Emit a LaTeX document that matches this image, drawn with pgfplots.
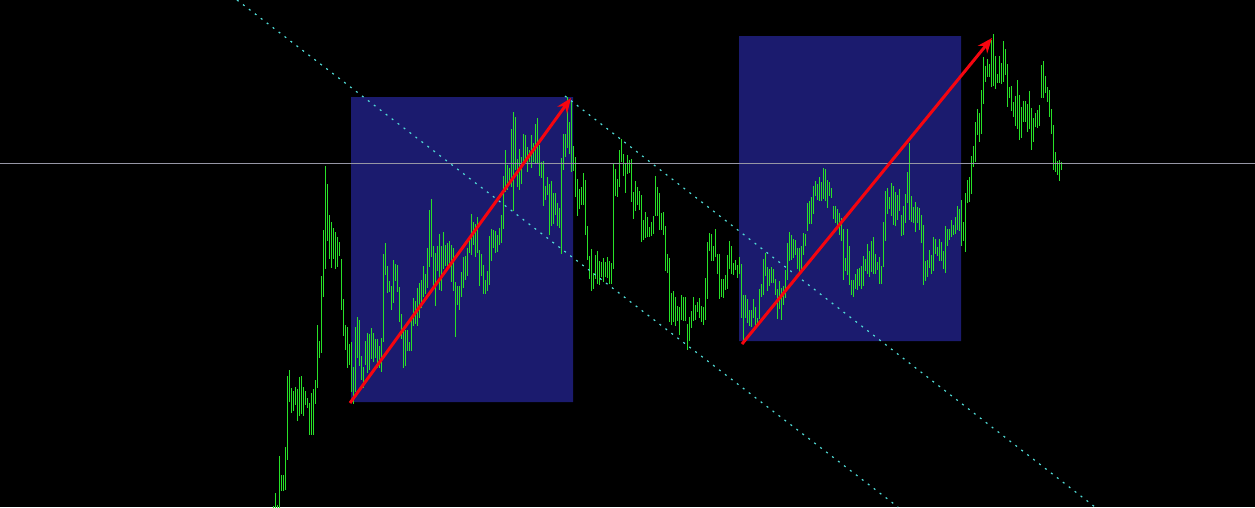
\documentclass[border=0pt]{standalone}
\usepackage{pgfplots}
\usepackage{pgfplotstable}
\pgfplotsset{compat=1.18}
\usetikzlibrary{arrows.meta}
\definecolor{barc}{RGB}{40,225,40}
\definecolor{boxc}{RGB}{27,27,110}
\definecolor{dotc}{RGB}{80,220,215}
\definecolor{hlc}{RGB}{150,150,165}
\definecolor{arrc}{RGB}{245,5,15}
\pgfplotstableread{
top bot
506 507
493 507
505 507
456 507
475 490
475 490
447 489
376 459
370 401
388 412
391 410
387 404
389 420
377 415
376 413
387 415
391 404
398 407
403 434
393 434
389 434
380 403
325 387
341 357
276 352
230 296
166 268
184 240
215 258
222 267
228 258
232 268
237 266
242 255
259 309
299 335
325 349
327 367
344 364
342 391
367 403
327 391
317 357
320 365
356 379
367 387
341 364
333 372
334 369
328 358
333 361
339 357
339 367
346 367
338 371
254 341
243 274
266 292
281 291
286 309
260 302
264 280
265 291
287 321
314 338
330 367
330 365
330 350
342 350
316 350
298 325
301 323
288 325
283 317
280 307
266 296
274 293
248 287
210 266
199 256
246 285
253 305
246 270
234 289
246 290
232 268
245 265
243 267
241 263
245 281
248 290
282 336
286 304
286 309
272 296
257 287
256 279
248 275
238 252
214 254
222 244
224 256
217 252
250 285
254 275
265 293
280 293
271 290
236 284
229 260
230 247
231 252
235 251
228 244
215 242
176 228
150 191
165 189
168 183
129 186
112 210
117 169
159 186
149 189
157 183
134 165
135 162
147 171
150 161
135 167
143 161
124 162
118 162
145 175
162 177
161 205
186 199
177 194
184 234
181 225
193 223
193 214
203 225
208 227
158 253
134 169
134 156
97 147
122 153
102 171
146 170
157 196
179 215
189 208
187 204
173 204
180 234
226 259
256 278
249 290
273 288
255 278
251 283
261 284
262 276
258 281
262 276
257 277
261 283
263 283
164 268
169 195
179 196
150 186
139 161
154 175
164 192
155 173
160 172
159 201
192 218
181 210
187 204
191 209
195 241
220 239
212 237
217 236
227 236
222 235
216 233
176 215
187 215
193 229
213 229
212 234
226 270
254 272
258 321
293 324
291 321
297 325
306 320
307 334
295 319
297 320
297 320
324 349
317 340
311 327
297 320
305 319
302 311
298 317
306 321
307 324
278 319
242 298
233 250
234 260
246 260
229 256
254 273
254 298
279 296
279 297
275 289
255 288
241 268
246 273
263 274
260 269
265 277
257 273
264 317
295 342
295 317
299 322
310 325
310 326
299 317
307 326
318 324
289 318
284 296
259 294
253 275
267 290
269 285
267 282
269 282
279 294
289 318
281 308
288 319
286 304
270 297
243 279
232 260
235 259
239 257
240 254
248 268
248 273
246 268
233 254
234 245
203 230
201 223
197 223
186 213
181 195
184 199
177 200
182 200
168 198
169 200
180 207
182 195
188 197
206 218
206 222
209 226
213 234
218 240
229 279
258 270
229 274
246 284
280 294
280 296
274 288
269 289
268 285
266 288
256 285
259 270
244 273
251 276
241 271
237 273
254 273
262 269
257 283
266 283
222 266
191 240
188 213
197 208
183 215
186 224
192 225
195 219
189 210
215 235
206 234
194 222
172 202
143 219
196 221
207 222
202 231
207 222
208 229
215 242
225 284
261 280
260 276
250 267
255 273
237 270
239 253
247 255
239 260
242 260
251 268
226 272
229 245
229 239
220 236
225 234
217 233
206 229
209 230
200 245
222 240
193 251
180 202
177 201
156 193
146 166
122 161
109 134
113 141
90 133
57 103
66 81
59 76
64 76
40 86
34 85
56 88
74 82
56 82
63 83
41 81
49 74
64 106
87 97
86 110
102 116
96 125
80 128
95 139
107 137
101 121
101 121
104 131
91 128
108 149
118 141
113 126
110 127
105 125
65 97
61 97
76 92
87 101
90 116
109 133
125 169
152 171
161 174
160 180
162 169
}\bars
\begin{document}
\begin{tikzpicture}
\begin{axis}[
  width=1255pt, height=507pt, scale only axis,
  xmin=0, xmax=1255, ymin=0, ymax=507, y dir=reverse,
  axis lines=none, clip=true,
  axis background/.style={fill=black},
]
% blue boxes
\addplot[fill=boxc, draw=none] coordinates {(351,97) (573,97) (573,402) (351,402) (351,97)};
\addplot[fill=boxc, draw=none] coordinates {(739,36) (961,36) (961,341) (739,341) (739,36)};
% price bars
\addplot[draw=none, mark=none,
  error bars/.cd, y dir=both, y explicit, error mark=none,
  error bar style={draw=barc, line width=1pt}]
  table[x expr=273.33+2*\coordindex,
        y expr=(\thisrow{top}+\thisrow{bot})/2,
        y error expr=(\thisrow{bot}-\thisrow{top}+1)/2] {\bars};
% horizontal line
\addplot[hlc, line width=1pt] coordinates {(0,163) (1255,163)};
% channel lines
\addplot[dotc, line width=1.2pt, dash pattern=on 2pt off 5.5pt] coordinates {(237,0) (898,507)};
\addplot[dotc, line width=1.2pt, dash pattern=on 2pt off 5.5pt] coordinates {(565,96) (1095,507)};
% arrows
\addplot[arrc, line width=3pt, -{Stealth[length=15pt, width=12pt]}] coordinates {(350,403) (571,98)};
\addplot[arrc, line width=3pt, -{Stealth[length=15pt, width=12pt]}] coordinates {(742,344) (992,38)};
\end{axis}
\end{tikzpicture}
\end{document}
